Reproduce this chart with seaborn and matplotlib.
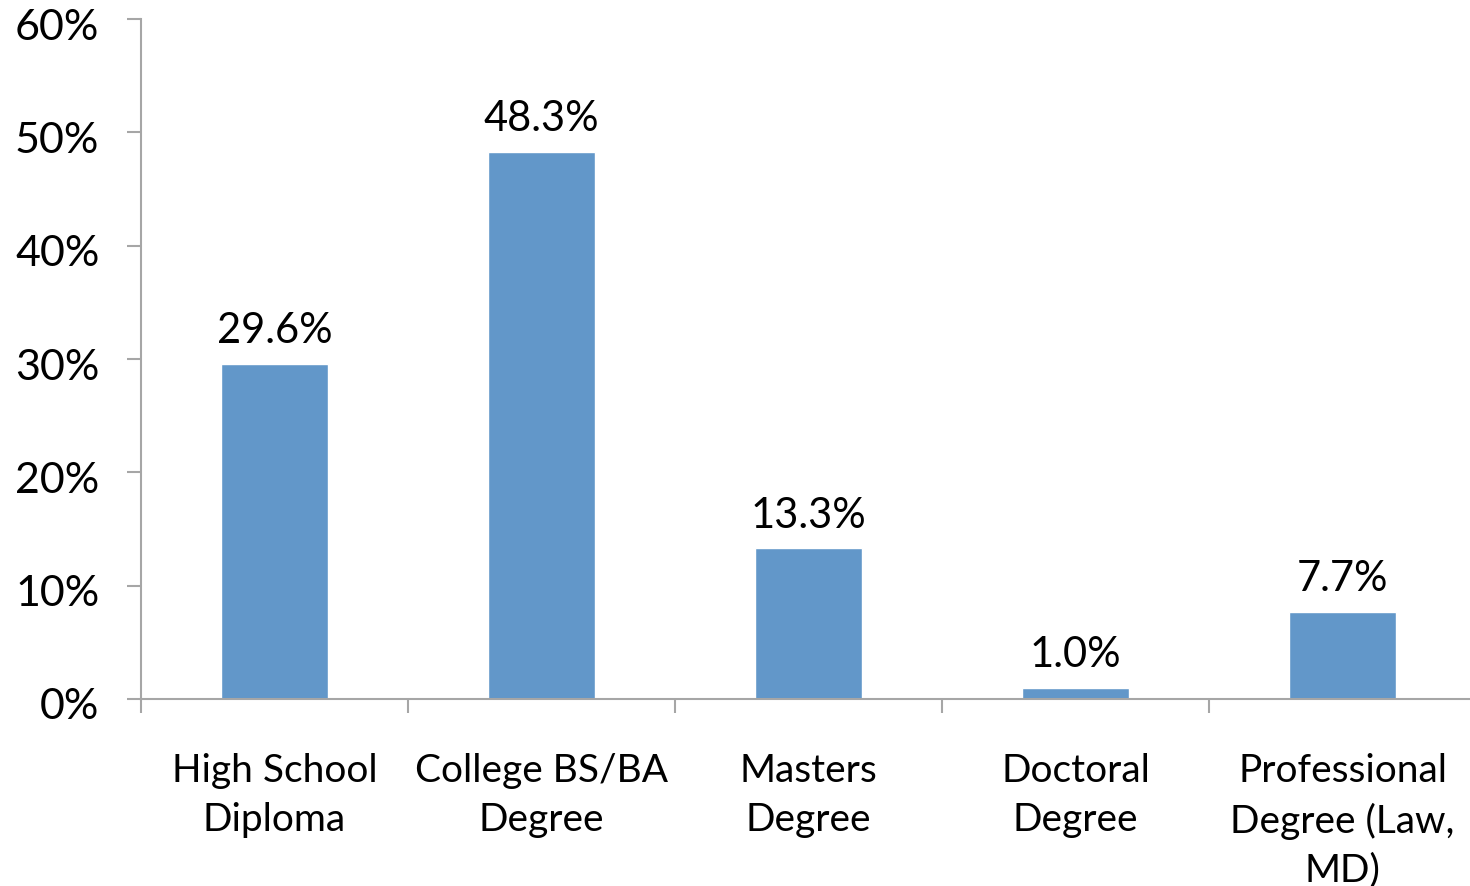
import numpy as np
import pandas as pd
import matplotlib
matplotlib.use("Agg")
import matplotlib.pyplot as plt
import matplotlib.transforms as mtransforms
import seaborn as sns

# education levels and share of respondents (%)
categories = ["High School\nDiploma", "College BS/BA\nDegree", "Masters\nDegree",
              "Doctoral\nDegree", "Professional\nDegree (Law,\nMD)"]
values = [29.6, 48.3, 13.3, 1.0, 7.7]
y_ticks = [0, 10, 20, 30, 40, 50, 60]

sns.set_style("white")
plt.rcParams['font.family'] = ['Lato', 'DejaVu Sans']
plt.rcParams['text.color'] = 'black'
plt.rcParams['xtick.labelcolor'] = 'black'
plt.rcParams['ytick.labelcolor'] = 'black'

df = pd.DataFrame({"level": categories, "pct": values})

fig = plt.figure(figsize=(14.7, 8.87), dpi=100)
ax = fig.add_axes([141/1470, 187/887, 1335/1470, 680/887])

sns.barplot(data=df, x="level", y="pct", color="#6297C9", width=0.4,
            saturation=1, ax=ax)

for i, v in enumerate(values):
    ax.text(i, v + 1.3, f"{v:.1f}%", ha="center", va="bottom", fontsize=30,
            color="black")

ax.set_ylim(0, 60)
ax.set_xlim(-0.5, len(categories) - 0.5)
ax.set_yticks(y_ticks)
ax.set_yticklabels([f"{t}%" for t in y_ticks])
ax.set_xlabel("")
ax.set_ylabel("")

# tick marks between categories, none at the labels
ax.set_xticks(np.arange(len(categories) + 1) - 0.5, minor=True)
ax.tick_params(axis="x", which="major", length=0, pad=38, labelsize=28)
ax.tick_params(axis="x", which="minor", length=10, width=1.5, color="#A6A6A6",
               direction="out", bottom=True)
ax.tick_params(axis="y", length=10, width=1.5, color="#A6A6A6", direction="out",
               pad=20, labelsize=31, left=True)
for lab in ax.get_xticklabels():
    lab.set_linespacing(1.45)

# nudge y labels down a little
shift = mtransforms.ScaledTranslation(0, -4/100, fig.dpi_scale_trans)
for lab in ax.get_yticklabels():
    lab.set_transform(lab.get_transform() + shift)

sns.despine(ax=ax)
for s in ["left", "bottom"]:
    ax.spines[s].set_color("#A6A6A6")
    ax.spines[s].set_linewidth(1.5)

plt.savefig("out.png", dpi=100)
